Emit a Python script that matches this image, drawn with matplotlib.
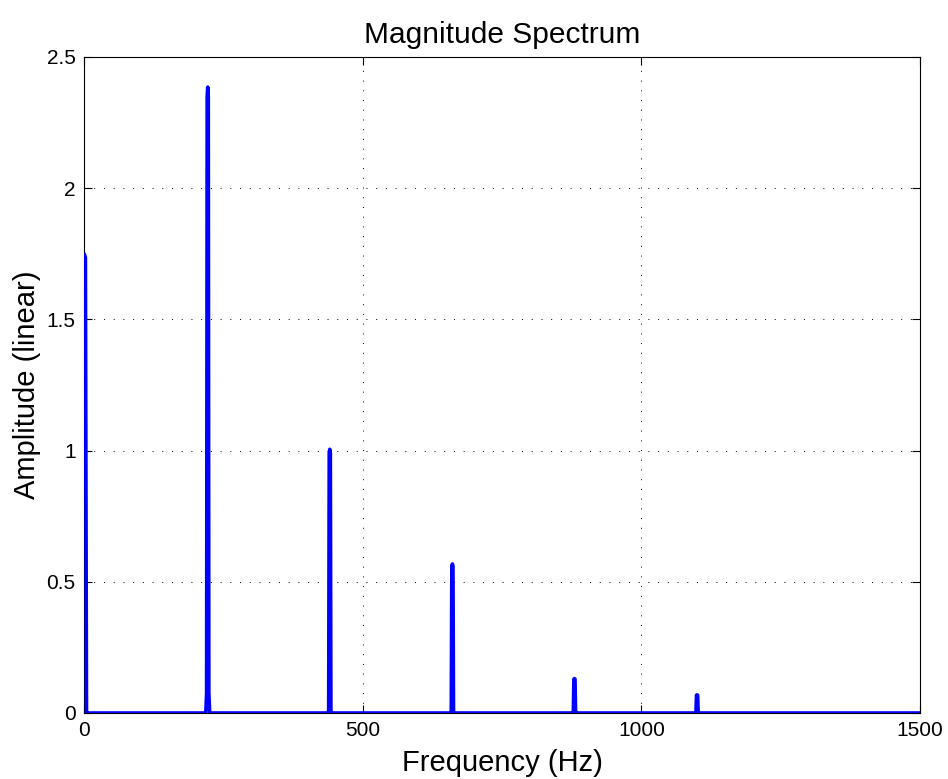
import numpy as np
import matplotlib
matplotlib.use("Agg")
import matplotlib.pyplot as plt

plt.rcParams['font.family'] = ['Liberation Sans', 'DejaVu Sans']

# Spectral peaks: DC component plus the fundamental and its harmonics
peak_freqs = [0, 222, 441, 661, 880, 1100]
peak_amps = [1.753, 2.385, 1.005, 0.568, 0.131, 0.069]
# small leakage skirt around each peak
skirt_amps = [0.0, 0.076, 0.01, 0.008, 0.004, 0.003]

x_ticks = [0, 500, 1000, 1500]
y_ticks = [0, 0.5, 1, 1.5, 2, 2.5]
y_tick_labels = ['0', '0.5', '1', '1.5', '2', '2.5']

# Build the polyline of the spectrum from the peak list
half_base = 3.5
half_skirt = 2.0
half_top = 1.0
xs, ys = [], []
for f, a, s in zip(peak_freqs, peak_amps, skirt_amps):
    if f == 0:
        # the DC bin spans the first couple of hertz before dropping off
        xs += [0, 2.5, 4.5, 6.0]
        ys += [a, a * 0.99, s, 0]
    else:
        xs += [f - half_base, f - half_skirt, f - half_top, f, f + half_top,
               f + half_skirt, f + half_base]
        ys += [0, s, a * 0.985, a, a * 0.985, s, 0]
xs.append(x_ticks[-1])
ys.append(0)

fig = plt.figure(figsize=(9.48, 7.79), dpi=100)
ax = fig.add_axes([84 / 948, 1 - 713 / 779, 836 / 948, 656 / 779])

ax.plot(xs, ys, color='#0000ff', lw=2.6, solid_joinstyle='round',
        solid_capstyle='butt', zorder=3)

ax.set_xlim(0, 1500)
ax.set_ylim(0, 2.5)
ax.set_xticks(x_ticks)
ax.set_yticks(y_ticks)
ax.set_yticklabels(y_tick_labels)
ax.grid(True, color='black', linestyle=(0, (1, 9)), linewidth=0.7)
ax.tick_params(direction='in', top=True, right=True, length=6, width=0.8,
               labelsize=15, pad=6)
for sp in ax.spines.values():
    sp.set_linewidth(0.8)

ax.set_title('Magnitude Spectrum', fontsize=21.5, pad=10)
ax.set_xlabel('Frequency (Hz)', fontsize=21, labelpad=6)
ax.set_ylabel('Amplitude (linear)', fontsize=21, labelpad=4)

fig.savefig('out.png', dpi=100)
